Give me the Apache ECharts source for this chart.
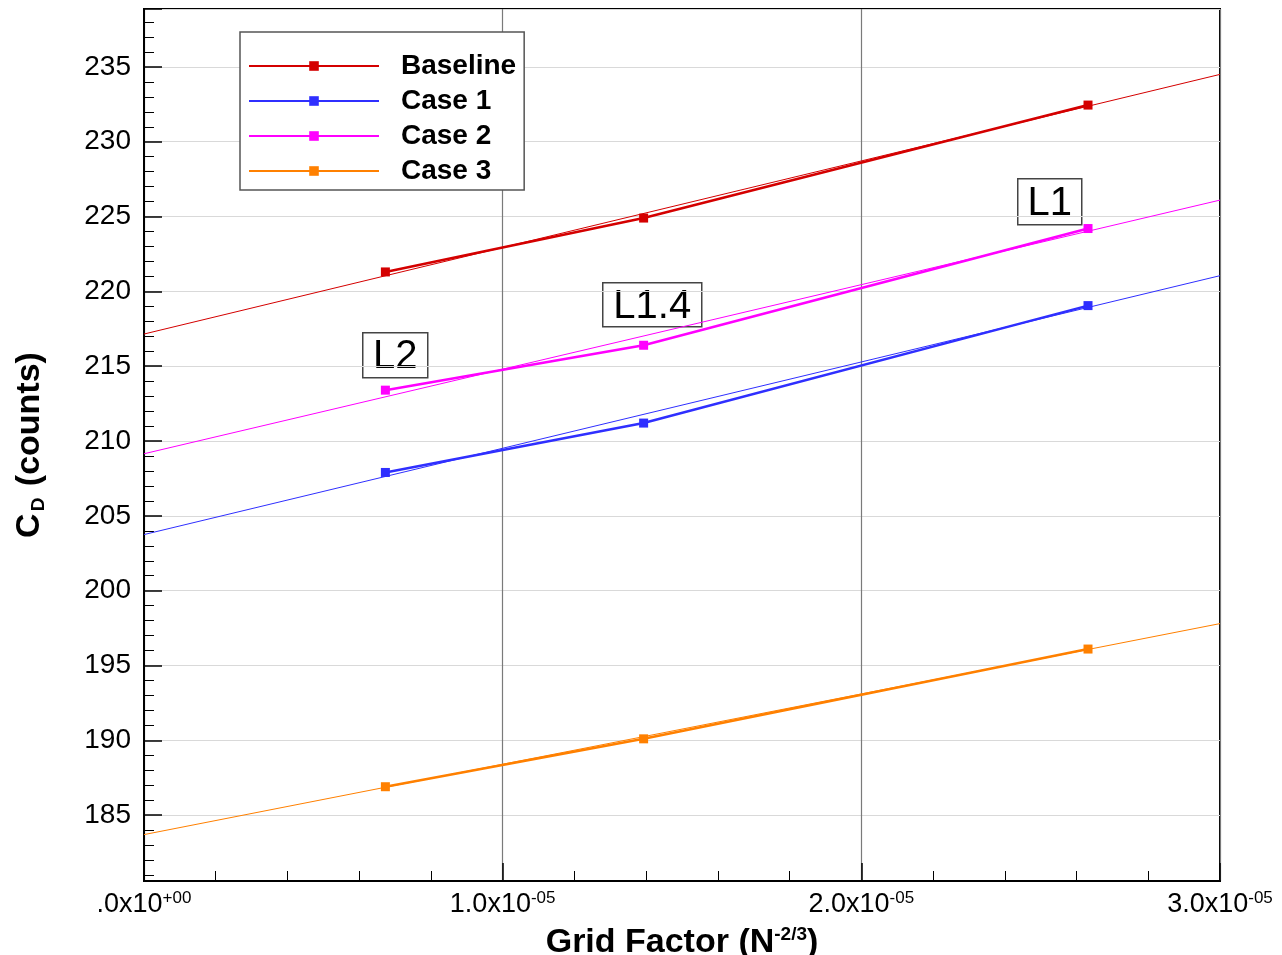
<!DOCTYPE html>
<html>
<head>
<meta charset="utf-8">
<script src="https://cdn.jsdelivr.net/npm/echarts@6/dist/echarts.min.js"></script>
<style>
html,body{margin:0;padding:0;background:#fff;}
#chart{width:1282px;height:955px;}
</style>
</head>
<body>
<div id="chart"></div>
<script>
// ---- data ----
var gridFactor = [6.73e-6, 1.393e-5, 2.632e-5];
var seriesNames = ['Baseline', 'Case 1', 'Case 2', 'Case 3'];
var baseline = [221.3, 224.9, 232.45];
var case1 = [207.9, 211.2, 219.05];
var case2 = [213.4, 216.4, 224.2];
var case3 = [186.9, 190.1, 196.1];
// linear-fit lines: value at x = 0 and at x = 3.0e-5
var fitX = [0, 3.0e-5];
var baselineFit = [217.15, 234.5];
var case1Fit = [203.75, 221.05];
var case2Fit = [209.15, 226.1];
var case3Fit = [183.7, 197.8];
var colors = ['#d40000', '#2f2fff', '#ff00ff', '#ff8000'];
var annotations = [
  {text: 'L2', x: 362, y: 332, w: 65, h: 45},
  {text: 'L1.4', x: 602, y: 282, w: 99, h: 44},
  {text: 'L1', x: 1017, y: 178, w: 64, h: 46}
];
var xMin = 0, xMax = 3.0e-5, yMin = 180.6, yMax = 238.87;

var FONT = '"Liberation Sans", Arial, Helvetica, sans-serif';

function pairs(xs, ys) { return xs.map(function (x, i) { return [x, ys[i]]; }); }

var dataSets = [baseline, case1, case2, case3];
var fitSets = [baselineFit, case1Fit, case2Fit, case3Fit];
var series = [];
fitSets.forEach(function (f, i) {
  series.push({
    name: seriesNames[i] + ' fit', type: 'line', data: pairs(fitX, f),
    showSymbol: false, symbol: 'none', silent: true,
    lineStyle: {color: colors[i], width: 1}, z: 2
  });
});
dataSets.forEach(function (d, i) {
  series.push({
    name: seriesNames[i], type: 'line', data: pairs(gridFactor, d),
    symbol: 'rect', symbolSize: 9,
    itemStyle: {color: colors[i]},
    lineStyle: {color: colors[i], width: 2.5}, z: 3
  });
});

function xFmt(v) {
  if (Math.abs(v) < 1e-12) return '{m|.0x10}{s|+00}';
  var e = Math.floor(Math.log10(Math.abs(v)) + 1e-9);
  var m = v / Math.pow(10, e);
  var es = (e < 0 ? '-' : '+') + (Math.abs(e) < 10 ? '0' : '') + Math.abs(e);
  return '{m|' + m.toFixed(1) + 'x10}{s|' + es + '}';
}

var graphics = [];
annotations.forEach(function (a) {
  graphics.push({
    type: 'group', left: a.x, top: a.y, z: 100,
    children: [
      {type: 'rect', shape: {x: 0, y: 0, width: a.w, height: a.h},
       style: {fill: '#fff', stroke: '#444', lineWidth: 1.5}},
      {type: 'text', x: a.w / 2, y: a.h / 2 + 2,
       style: {text: a.text, font: '40px ' + FONT, fill: '#000', align: 'center', verticalAlign: 'middle'}}
    ]
  });
});

var chart = echarts.init(document.getElementById('chart'), null, {renderer: 'canvas'});
chart.setOption({
  backgroundColor: '#fff',
  animation: false,
  textStyle: {fontFamily: FONT},
  grid: {left: 144, right: 62, top: 9, bottom: 74, containLabel: false, outerBoundsMode: 'none',
    show: true, borderColor: '#000', borderWidth: 2, backgroundColor: 'transparent'},
  legend: {
    data: seriesNames,
    orient: 'vertical',
    left: 240, top: 32,
    padding: [19, 8, 4, 8],
    backgroundColor: '#fff',
    borderColor: '#555', borderWidth: 1.5,
    itemWidth: 130, itemHeight: 12, itemGap: 5,
    textStyle: {fontFamily: FONT, fontSize: 28, fontWeight: 'bold', color: '#000', lineHeight: 30, padding: [0, 0, 0, 17]},
    selectedMode: false,
    z: 50
  },
  xAxis: {
    type: 'value', min: xMin, max: xMax, interval: 1.0e-5,
    name: '{n|Grid Factor (N}{s|-2/3}{n|)}',
    nameLocation: 'middle', nameGap: 35,
    nameTextStyle: {rich: {
      n: {fontFamily: FONT, fontSize: 34, fontWeight: 'bold', color: '#000', lineHeight: 38},
      s: {fontFamily: FONT, fontSize: 19, fontWeight: 'bold', color: '#000', lineHeight: 38, padding: [0, 0, 16, 0]}
    }},
    axisLine: {show: true, onZero: false, lineStyle: {color: '#000', width: 2}},
    axisTick: {show: true, inside: true, length: 18, lineStyle: {color: '#000', width: 1.5}},
    minorTick: {show: true, splitNumber: 5, length: 10, lineStyle: {color: '#000', width: 1}},
    splitLine: {show: true, lineStyle: {color: '#7a7a7a', width: 1.2}},
    axisLabel: {
      margin: 9, formatter: xFmt,
      rich: {
        m: {fontFamily: FONT, fontSize: 27, color: '#000', lineHeight: 30},
        s: {fontFamily: FONT, fontSize: 17, color: '#000', lineHeight: 30, padding: [0, 0, 14, 0]}
      }
    }
  },
  yAxis: {
    type: 'value', min: yMin, max: yMax, splitNumber: 12,
    name: '{n|C}{d|D}{n| (counts)}',
    nameLocation: 'middle', nameGap: 95, nameRotate: 90,
    nameTextStyle: {rich: {
      n: {fontFamily: FONT, fontSize: 34, fontWeight: 'bold', color: '#000', lineHeight: 38},
      d: {fontFamily: FONT, fontSize: 19, fontWeight: 'bold', color: '#000', lineHeight: 38, padding: [18, 2, 0, 2]}
    }},
    axisLine: {show: true, onZero: false, lineStyle: {color: '#000', width: 2}},
    axisTick: {show: true, inside: true, length: 18, lineStyle: {color: '#000', width: 1.5}},
    minorTick: {show: true, splitNumber: 5, length: 10, lineStyle: {color: '#000', width: 1}},
    splitLine: {show: true, lineStyle: {color: '#d9d9d9', width: 1}},
    axisLabel: {fontFamily: FONT, fontSize: 28, color: '#000', margin: 13, showMinLabel: false, showMaxLabel: false,
      formatter: function (v) { return Math.round(v) === v ? String(v) : ''; }}
  },
  series: series,
  graphic: graphics
});
</script>
</body>
</html>
